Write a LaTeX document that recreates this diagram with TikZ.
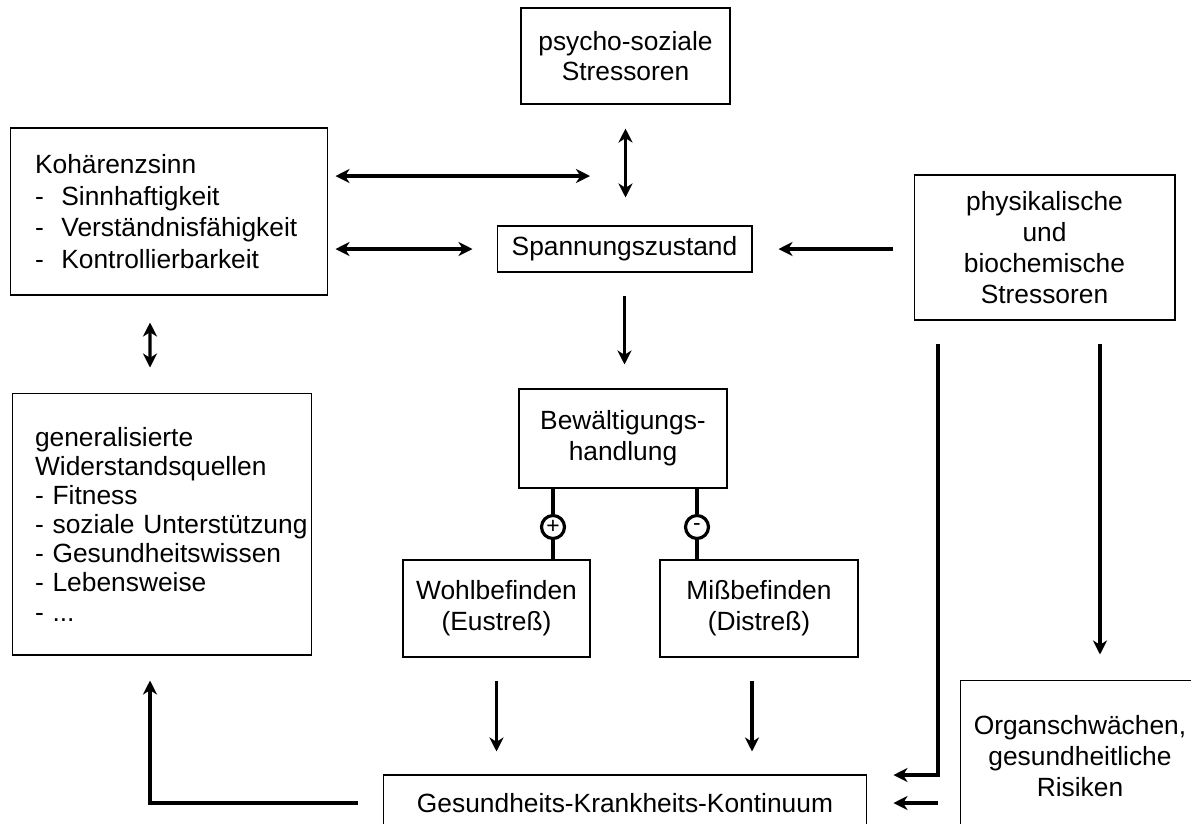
\documentclass[tikz,border=0pt]{standalone}
\usepackage{fontspec}
\setmainfont{Liberation Sans}
\usetikzlibrary{arrows.meta}

\begin{document}
\begin{tikzpicture}[x=0.02cm, y=-0.02cm,
                    box/.style={draw, line width=0.6pt, align=center, inner sep=0pt, font=\fontsize{15}{17.5}\selectfont},
                    lbox/.style={box, align=left, text width=#1},
                    arr/.style={line width=1.8pt, -{Stealth[length=8pt,width=8pt,inset=2.5pt]}},
                    dbl/.style={line width=1.8pt, {Stealth[length=8pt,width=8pt,inset=2.5pt]}-{Stealth[length=8pt,width=8pt,inset=2.5pt]}},
                    link/.style={line width=1.8pt},
                    sign/.style={draw, circle, line width=1.8pt, inner sep=0pt, minimum size=0.46cm, font=\fontsize{13}{13}\selectfont}]
                        \useasboundingbox (0,0) rectangle (1191,823);

                        \node[box, minimum width=4.18cm, minimum height=1.92cm] (psy) at (625.5,56) {psycho-soziale\\Stressoren};
                        \node[lbox=5.36cm, minimum width=6.36cm, minimum height=3.34cm, font=\fontsize{15}{18}\selectfont] (koh) at (169,211.5)
                            {Kohärenzsinn\\-\ \ Sinnhaftigkeit\\-\ \ Verständnisfähigkeit\\-\ \ Kontrollierbarkeit};
                        \node[box, minimum width=5.1cm, minimum height=0.92cm] (spa) at (624.5,249) {Spannungszustand};
                        \node[box, minimum width=5.22cm, minimum height=2.9cm] (phy) at (1044.5,247.5) {physikalische\\und\\biochemische\\Stressoren};
                        \node[box, minimum width=4.16cm, minimum height=1.98cm] (bew) at (623,438.5) {Bewältigungs-\\handlung};
                        \node[lbox=5.08cm, minimum width=6cm, minimum height=5.24cm, font=\fontsize{15}{16.6}\selectfont] (wid) at (162,524)
                            {generalisierte\\Widerstandsquellen\\- Fitness\\\mbox{- soziale Unterstützung}\\- Gesundheitswissen\\- Lebensweise\\- ...};
                        \node[box, minimum width=3.74cm, minimum height=1.94cm] (wohl) at (496.5,608.5) {Wohlbefinden\\(Eustreß)};
                        \node[box, minimum width=3.96cm, minimum height=1.94cm] (miss) at (759,608.5) {Mißbefinden\\(Distreß)};
                        \node[box, minimum width=4.8cm, minimum height=3.04cm] (org) at (1080,756) {Organschwächen,\\gesundheitliche\\Risiken};
                        \node[box, minimum width=9.68cm, minimum height=1.12cm] (kon) at (625,803) {Gesundheits-Krankheits-Kontinuum};
                        \node[sign] (plus) at (553,527) {+};
                        \node[sign] (minus) at (697,527) {-};

                        \coordinate (mid) at (623,176);
                        \coordinate (missout) at ([xshift=-0.14cm]miss.south);
                        \coordinate (phyl) at ([xshift=-2.13cm]phy.south);
                        \coordinate (phyr) at ([xshift=1.11cm]phy.south);

                        \draw[dbl, shorten <=0.48cm, shorten >=0.56cm] (psy.south) -- (psy.south |- spa.north);
                        \draw[dbl, shorten <=0.14cm, shorten >=0.66cm] (koh.east |- mid) -- (mid);
                        \draw[dbl, shorten <=0.14cm, shorten >=0.48cm] (koh.east |- spa.west) -- (spa.west);
                        \draw[arr, shorten <=0.42cm, shorten >=0.52cm] (phy.west |- spa.east) -- (spa.east);
                        \draw[arr, shorten <=0.46cm, shorten >=0.48cm] (spa.south) -- (spa.south |- bew.north);
                        \draw[dbl, shorten <=0.54cm, shorten >=0.5cm] ([xshift=-0.38cm]koh.south) -- ([xshift=-0.24cm]wid.north);
                        \draw[link] (plus |- bew.south) -- (plus.north);
                        \draw[link] (plus.south) -- (plus |- wohl.north);
                        \draw[link] (minus |- bew.south) -- (minus.north);
                        \draw[link] (minus.south) -- (minus |- miss.north);
                        \draw[arr, shorten <=0.46cm, shorten >=0.46cm] (wohl.south) -- (wohl.south |- kon.north);
                        \draw[arr, shorten <=0.46cm, shorten >=0.46cm] (missout) -- (missout |- kon.north);
                        \draw[arr, shorten <=0.46cm, shorten >=0.52cm] (phyl) |- ([yshift=0.56cm]kon.east);
                        \draw[arr, shorten <=0.46cm, shorten >=0.5cm] (phyr) -- (phyr |- org.north);
                        \draw[arr, shorten <=0.44cm, shorten >=0.52cm] (org.west |- kon.east) -- (kon.east);
                        \draw[arr, shorten <=0.5cm, shorten >=0.5cm] (kon.west) -| ([xshift=-0.24cm]wid.south);

                    \end{tikzpicture}
\end{document}
